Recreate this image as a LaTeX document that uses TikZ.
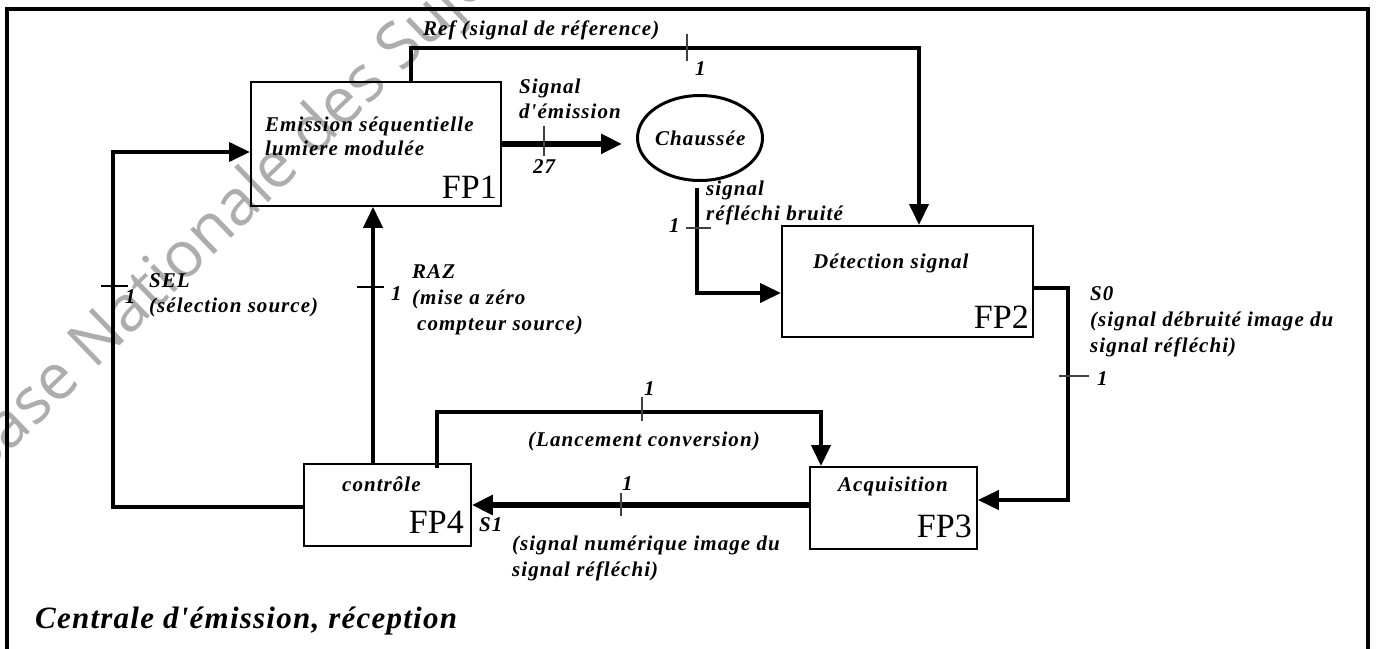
\documentclass[tikz,border=0pt]{standalone}
\usepackage{fontspec}
\setmainfont{Liberation Serif}
\newfontfamily\labfont[LetterSpace=5]{Liberation Serif Bold Italic}
\newfontfamily\ttlfont[LetterSpace=4]{Liberation Serif Bold Italic}
\newfontfamily\wmfont{Open Sans}
\usetikzlibrary{arrows.meta,shapes.geometric}
\tikzset{
  lbl/.style={font=\labfont\fontsize{21}{22}\selectfont, inner sep=0pt, anchor=base west},
  fplbl/.style={font=\fontsize{34}{34}\selectfont, inner sep=0pt, anchor=base east},
  blk/.style={draw, line width=1.8pt, inner sep=0pt, anchor=north west},
  conn/.style={line width=4pt},
  thick conn/.style={line width=5.5pt},
  arr/.style={-{Triangle[length=21pt,width=19pt]}},
  tickmark/.style={line width=1.3pt, draw=black!75},
}
\begin{document}
\begin{tikzpicture}[x=1pt,y=-1pt]
\useasboundingbox (0,0) rectangle (1376,648);
\clip (0,0) rectangle (1376,648);
% watermark
\node[font=\wmfont\fontsize{64}{64}\selectfont, text=black!32, rotate=44, anchor=base west, inner sep=0pt] (wm) at (-21,482) {Base Nationale des Sujets d'Examens};
% frame
\draw[line width=3.5pt] (7,700) -- (7,9) -- (1368,9) -- (1368,700);
% blocks
\node[blk, minimum width=250pt, minimum height=124pt] (fp1) at (250,81) {};
\node[blk, minimum width=251pt, minimum height=111pt] (fp2) at (781,225) {};
\node[blk, minimum width=167pt, minimum height=82pt] (fp3) at (809,466) {};
\node[blk, minimum width=167pt, minimum height=82pt] (fp4) at (303,463) {};
\node[draw, ellipse, line width=3pt, minimum width=125pt, minimum height=85pt, inner sep=0pt] (chaus) at (700,138) {};
% texts inside blocks
\node[lbl] (t1a) at (265,131) {Emission séquentielle};
\node[lbl] (t1b) at (265,155) {lumiere modulée};
\node[fplbl] (fp1l) at (497,198) {FP1};
\node[lbl] (t2) at (813,268) {Détection signal};
\node[fplbl] (fp2l) at (1029,328) {FP2};
\node[lbl] (t3) at (838,491) {Acquisition};
\node[fplbl] (fp3l) at (972,537) {FP3};
\node[lbl] (t4) at (342,491) {contrôle};
\node[fplbl] (fp4l) at (464,533) {FP4};
\node[lbl] (tc) at (655,145) {Chaussée};
% coordinates of bends
\coordinate (refA) at (411,48);
\coordinate (refB) at (919,48);
\coordinate (rA) at (697,188);
\coordinate (rB) at (697,293);
\coordinate (s0A) at (1068,288);
\coordinate (s0B) at (1068,500);
\coordinate (lcA) at (437,412);
\coordinate (lcB) at (821,412);
\coordinate (nm) at (640,505);
\coordinate (selA) at (113,507);
\coordinate (selB) at (113,152);
\coordinate (raz) at (373,300);
% connectors
\draw[conn, arr] (fp1.north -| refA) -- (refA) -- (refB) -- (fp2.north -| refB);
\draw[thick conn, arr, shorten >=14pt] (fp1.east) -- (chaus.west |- fp1.east);
\draw[conn, arr] (rA) -- (rB) -- (fp2.west |- rB);
\draw[conn, arr] (fp2.east |- s0A) -- (s0A) -- (s0B) -- (fp3.east |- s0B);
\draw[conn, arr] ([yshift=-5pt]fp4.north -| lcA) -- (lcA) -- (lcB) -- (fp3.north -| lcB);
\draw[thick conn, arr] (fp3.west |- nm) -- (fp4.east |- nm);
\draw[conn, arr] (fp4.west |- selA) -- (selA) -- (selB) -- (fp1.west |- selB);
\draw[conn, arr] (fp4.north -| raz) -- (fp1.south -| raz);
% ticks
\draw[tickmark] (687,34) -- (687,61);
\draw[tickmark] (544,126) -- (544,156);
\draw[tickmark] (686,228) -- (711,228);
\draw[tickmark] (1059,376) -- (1089,376);
\draw[tickmark] (642,397) -- (642,421);
\draw[tickmark] (621,493) -- (621,516);
\draw[tickmark, draw=black] (101,286) -- (128,286);
\draw[tickmark, draw=black] (357,287) -- (384,287);
% labels
\node[lbl] (lref) at (423,35) {Ref (signal de réference)};
\node[lbl] (lref1) at (695,75) {1};
\node[lbl] (lsig1) at (519,93) {Signal};
\node[lbl] (lsig2) at (519,118) {d'émission};
\node[lbl] (l27) at (533,173) {27};
\node[lbl] (lrf1) at (706,195) {signal};
\node[lbl] (lrf2) at (706,220) {réfléchi bruité};
\node[lbl] (lrf0) at (669,232) {1};
\node[lbl] (ls0a) at (1090,300) {S0};
\node[lbl] (ls0b) at (1090,326) {(signal débruité image du};
\node[lbl] (ls0c) at (1090,352) {signal réfléchi)};
\node[lbl] (ls01) at (1097,385) {1};
\node[lbl] (llc1) at (644,395) {1};
\node[lbl] (llc) at (528,446) {(Lancement conversion)};
\node[lbl] (lnm1) at (622,490) {1};
\node[lbl] (ls1) at (479,531) {S1};
\node[lbl] (lnma) at (512,550) {(signal numérique image du};
\node[lbl] (lnmb) at (512,576) {signal réfléchi)};
\node[lbl] (lsel) at (149,287) {SEL};
\node[lbl] (lsel2) at (149,312) {(sélection source)};
\node[lbl] (lsel1) at (125,303) {1};
\node[lbl] (lraz) at (412,278) {RAZ};
\node[lbl] (lraz2) at (412,304) {(mise a zéro};
\node[lbl] (lraz3) at (417,330) {compteur source)};
\node[lbl] (lraz1) at (391,300) {1};
\node[font=\ttlfont\fontsize{31}{31}\selectfont, inner sep=0pt, anchor=base west] (title) at (35,628) {Centrale d'émission, réception};
\end{tikzpicture}
\end{document}
